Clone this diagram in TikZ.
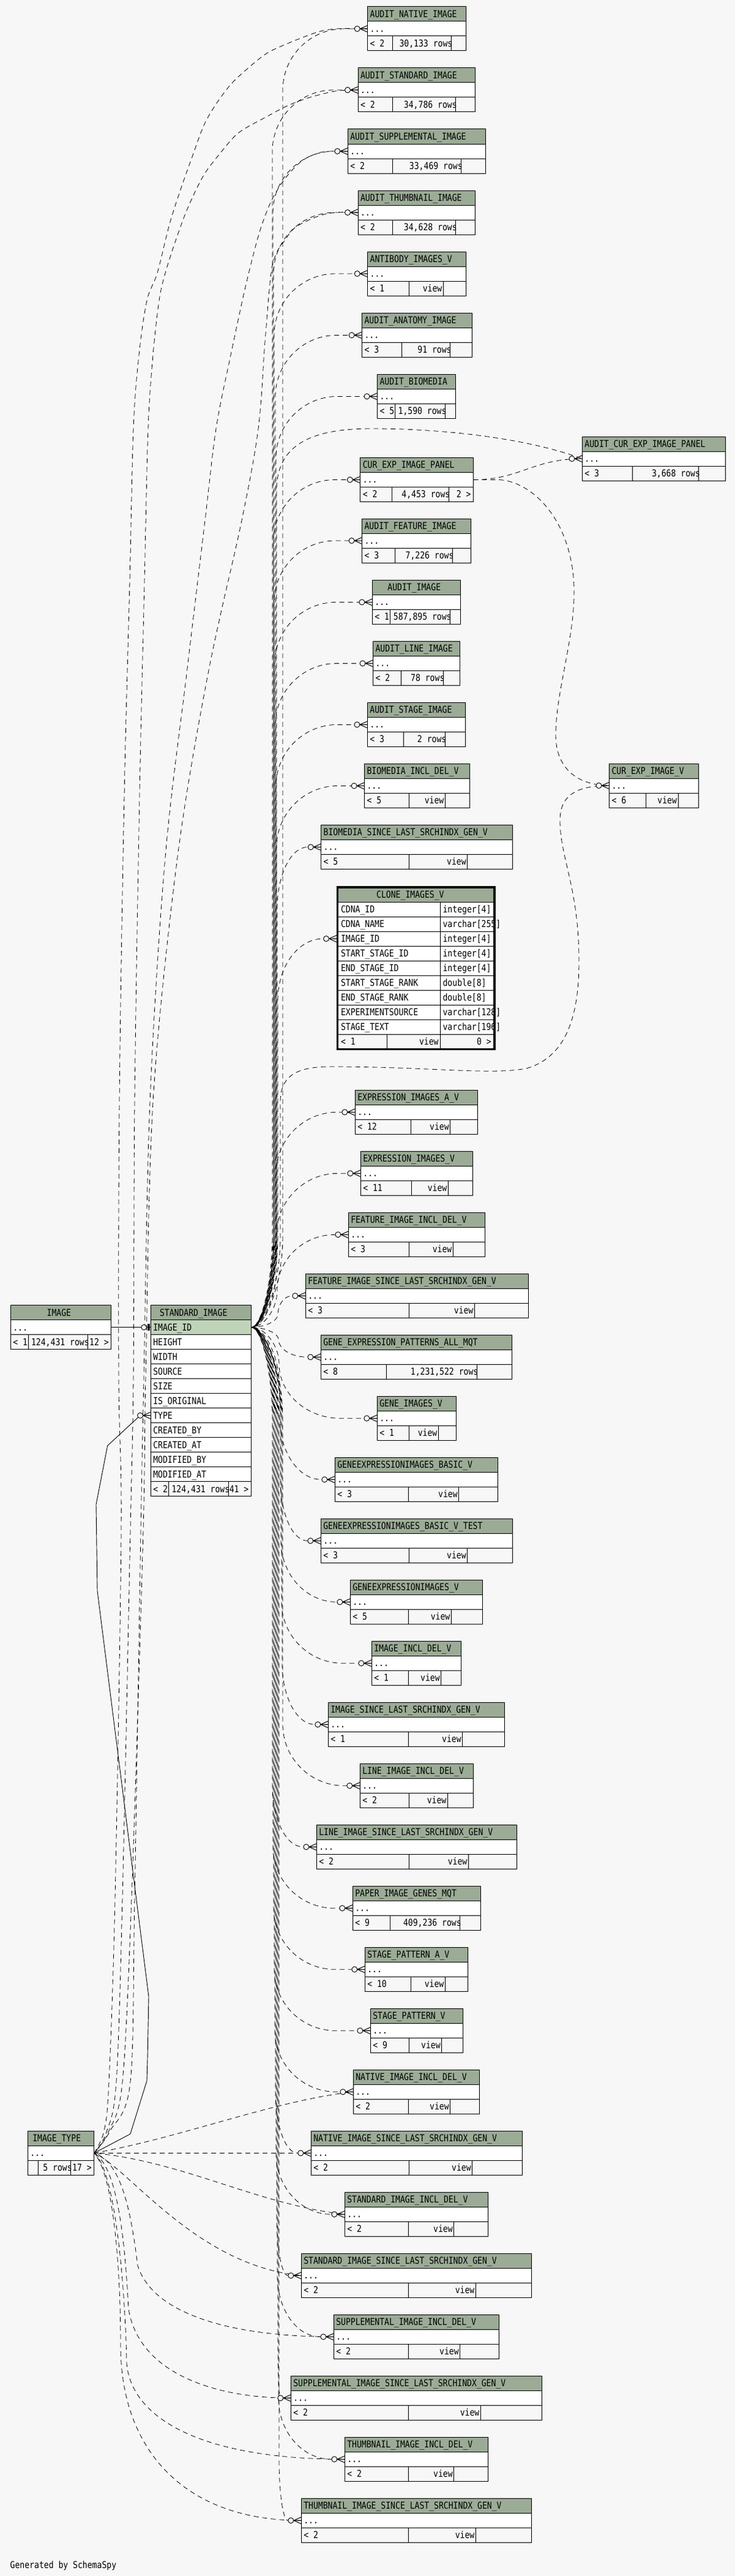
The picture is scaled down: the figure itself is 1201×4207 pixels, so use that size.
\documentclass[tikz,border=0pt]{standalone}
\usepackage{fontspec}
\newfontfamily\dbf[FakeStretch=0.845]{DejaVu Sans Mono}
\definecolor{bgc}{HTML}{F7F7F7}
\definecolor{hdrc}{HTML}{9BAB96}
\definecolor{keyc}{HTML}{BFD3B9}
\definecolor{footc}{HTML}{F7F7F7}
\tikzset{
 txt/.style={inner sep=0pt, outer sep=0pt, text height=10.6pt, text depth=0pt, anchor=west},
 rel/.style={line width=0.8pt, dash pattern=on 8pt off 6pt},
 solidrel/.style={line width=0.9pt},
 crow/.pic={\draw[line width=0.9pt, fill=bgc] (-17,0) circle[radius=4.5];
            \draw[line width=1pt] (-12.5,0) -- (0,0) (-12.5,0) -- (0,-5.5) (-12.5,0) -- (0,5.5);},
 zo/.pic={\draw[line width=0.9pt, fill=bgc] (-11,0) circle[radius=4.3];
          \draw[line width=0.9pt] (-6.7,0) -- (0,0);
          \fill (-5.2,-5.7) rectangle (-1.3,5.7);}
}
\def\hoff{4}\def\midoff{2}
% id, L, R, T, header, foot-left, foot-mid, split1, split2
\newcommand\dbt[9]{%
  \pgfmathsetmacro\tbw{#3-#2}%
  \fill[hdrc] (#2,#4) rectangle (#3,#4+24);
  \fill[white] (#2,#4+24) rectangle (#3,#4+48);
  \fill[footc] (#2,#4+48) rectangle (#3,#4+72);
  \node[txt] at ({#2+\hoff},{#4+12}) {#5};
  \node[txt] at ({#2+4},{#4+36}) {...};
  \node[txt] at ({#2+4},{#4+60}) {#6};
  \node[txt,anchor=east] at ({#9+(\midoff)},{#4+60}) {#7};
  \draw[line width=1pt] (#2,#4) rectangle (#3,{#4+72}) (#2,{#4+24}) -- (#3,{#4+24}) (#2,{#4+48}) -- (#3,{#4+48})
     (#8,{#4+48}) -- (#8,{#4+72}) (#9,{#4+48}) -- (#9,{#4+72});
  \node[inner sep=0pt, outer sep=0pt, minimum width=\tbw pt, minimum height=72pt, anchor=north west] (#1) at (#2,#4) {};
}
\newcommand\dbv[8]{\def\midoff{-2}\dbt{#1}{#2}{#3}{#4}{#5}{#6}{view}{#7}{#8}\def\midoff{2}}
% edge from STANDARD_IMAGE.IMAGE_ID: id, target y, target left
\newcommand\sedge[3]{%
 \pgfmathsetmacro\Edy{#2-2167.7}%
 \pgfmathsetmacro\Eady{abs(\Edy)}%
 \pgfmathsetmacro\Esg{\Edy<0 ? -1 : 1}%
 \pgfmathsetmacro\Evx{445+mod(round(#2*0.37),18)}%
 \pgfmathsetmacro\Eph{mod(round(#2*0.53),14)}%
 \pgfmathsetmacro\Ea{min(150,0.4*\Eady)}%
 \pgfmathsetmacro\Ery{min(100,\Eady-\Ea)}%
 \pgfmathsetmacro\Erx{max(4,min(100,#3-22-\Evx))}%
 \draw[rel, dash phase=\Eph pt] (si-id.east) .. controls ({(410.3+\Evx)/2},2167.7) and (\Evx,{2167.7+(\Esg)*\Ea*0.5}) .. (\Evx,{2167.7+(\Esg)*\Ea})
   -- (\Evx,{#2-(\Esg)*\Ery}) .. controls (\Evx,{#2-(\Esg)*\Ery*0.45}) and ({\Evx+\Erx*0.45},#2) .. ({\Evx+\Erx},#2) -- (#1.west);
}
\begin{document}
\begin{tikzpicture}[x=1pt,y=-1pt,font=\dbf\fontsize{15.5}{18}\selectfont]
\fill[bgc] (0,0) rectangle (1201,4207);
\useasboundingbox (0,0) rectangle (1201,4207);

% ---------- tables on the right ----------
\dbt{an}{600.7}{761.7}{11}{AUDIT\_NATIVE\_IMAGE}{< 2}{30,133 rows}{641.7}{737.3}
\dbt{as}{585}{776.7}{111}{AUDIT\_STANDARD\_IMAGE}{< 2}{34,786 rows}{641.7}{744.7}
\dbt{asu}{568.3}{793.7}{211}{AUDIT\_SUPPLEMENTAL\_IMAGE}{< 2}{33,469 rows}{641.7}{753.7}
\dbt{ath}{585}{776.7}{311}{AUDIT\_THUMBNAIL\_IMAGE}{< 2}{34,628 rows}{641.7}{744.7}
\dbv{abv}{600.7}{761.7}{411}{ANTIBODY\_IMAGES\_V}{< 1}{668.7}{724.3}
\dbt{aan}{591.6}{771.4}{511.4}{AUDIT\_ANATOMY\_IMAGE}{< 3}{91 rows}{656.7}{735.6}
\dbt{abio}{616.5}{744.7}{611.4}{AUDIT\_BIOMEDIA}{< 5}{1,590 rows}{645.7}{727.5}
\dbt{acep}{951.4}{1185.9}{713.2}{AUDIT\_CUR\_EXP\_IMAGE\_PANEL}{< 3}{3,668 rows}{1033.7}{1141.9}
\dbt{cep}{588.8}{773.4}{747.5}{CUR\_EXP\_IMAGE\_PANEL}{< 2}{4,453 rows}{640.4}{733.3}
\node[txt,anchor=east] at (769.4,807.5) {2 >};
\dbt{afe}{591.6}{769.6}{847}{AUDIT\_FEATURE\_IMAGE}{< 3}{7,226 rows}{645.7}{739.5}
\def\hoff{25}\dbt{aim}{608.4}{752.4}{947.5}{AUDIT\_IMAGE}{< 1}{587,895 rows}{637.6}{735.6}\def\hoff{4}
\dbt{ali}{609.5}{751.7}{1047.4}{AUDIT\_LINE\_IMAGE}{< 2}{78 rows}{655.5}{724.4}
\dbt{ast}{600.4}{760.3}{1147.4}{AUDIT\_STAGE\_IMAGE}{< 3}{2 rows}{659.3}{727.3}
\dbv{bid}{595.6}{767.5}{1247.4}{BIOMEDIA\_INCL\_DEL\_V}{< 5}{668.4}{727.3}
\dbv{bis}{524.7}{837.5}{1347.4}{BIOMEDIA\_SINCE\_LAST\_SRCHINDX\_GEN\_V}{< 5}{668.4}{763.7}
\dbv{cev}{995.5}{1141.6}{1247}{CUR\_EXP\_IMAGE\_V}{< 6}{1055.4}{1108}
\dbv{eia}{580.3}{780.3}{1780.3}{EXPRESSION\_IMAGES\_A\_V}{< 12}{671.3}{735.7}
\dbv{ei}{589.3}{772.3}{1880.3}{EXPRESSION\_IMAGES\_V}{< 11}{672.3}{732.3}
\dbv{fid}{569.3}{792.3}{1980.3}{FEATURE\_IMAGE\_INCL\_DEL\_V}{< 3}{668.3}{740.3}
\dbv{fis}{499.3}{863.3}{2080.3}{FEATURE\_IMAGE\_SINCE\_LAST\_SRCHINDX\_GEN\_V}{< 3}{668.3}{775.3}
\dbt{gep}{524.3}{836.3}{2180.3}{GENE\_EXPRESSION\_PATTERNS\_ALL\_MQT}{< 8}{1,231,522 rows}{631.3}{779.3}
\dbv{gi}{616.3}{745.3}{2280.3}{GENE\_IMAGES\_V}{< 1}{668.3}{716.3}
\dbv{geb}{547.3}{813.3}{2380.3}{GENEEXPRESSIONIMAGES\_BASIC\_V}{< 3}{667.3}{749.7}
\dbv{gebt}{524.3}{837.3}{2480.3}{GENEEXPRESSIONIMAGES\_BASIC\_V\_TEST}{< 3}{668.3}{763.7}
\dbv{ge}{572.3}{788.3}{2580.3}{GENEEXPRESSIONIMAGES\_V}{< 5}{667.3}{737.3}
\dbv{iid}{607.3}{753.3}{2680.3}{IMAGE\_INCL\_DEL\_V}{< 1}{667.3}{720.7}
\dbv{iis}{536.3}{824.3}{2780.3}{IMAGE\_SINCE\_LAST\_SRCHINDX\_GEN\_V}{< 1}{667.3}{755.7}
\dbv{lid}{588.3}{773.3}{2880.3}{LINE\_IMAGE\_INCL\_DEL\_V}{< 2}{668.3}{731.3}
\dbv{lis}{517.3}{844.3}{2980.3}{LINE\_IMAGE\_SINCE\_LAST\_SRCHINDX\_GEN\_V}{< 2}{668.3}{765.3}
\dbt{pig}{576.3}{785.3}{3080.3}{PAPER\_IMAGE\_GENES\_MQT}{< 9}{409,236 rows}{637.7}{751.7}
\dbv{spa}{596.3}{764.3}{3180.3}{STAGE\_PATTERN\_A\_V}{< 10}{671.3}{727.3}
\dbv{sp}{605.3}{756.3}{3280.3}{STAGE\_PATTERN\_V}{< 9}{668.3}{721.7}
\dbv{nid}{577.3}{783.3}{3380.3}{NATIVE\_IMAGE\_INCL\_DEL\_V}{< 2}{667.3}{735.7}
\dbv{nis}{508.3}{853.3}{3480.3}{NATIVE\_IMAGE\_SINCE\_LAST\_SRCHINDX\_GEN\_V}{< 2}{668.3}{771.7}
\dbv{sid}{563.3}{797.3}{3580.3}{STANDARD\_IMAGE\_INCL\_DEL\_V}{< 2}{667.3}{741.7}
\dbv{sis}{492.3}{868.3}{3680.3}{STANDARD\_IMAGE\_SINCE\_LAST\_SRCHINDX\_GEN\_V}{< 2}{667.3}{777.3}
\dbv{suid}{545.3}{815.7}{3780.3}{SUPPLEMENTAL\_IMAGE\_INCL\_DEL\_V}{< 2}{667.3}{751.7}
\dbv{suis}{475.3}{885.7}{3880.3}{SUPPLEMENTAL\_IMAGE\_SINCE\_LAST\_SRCHINDX\_GEN\_V}{< 2}{667.3}{785.3}
\dbv{tid}{563.3}{797.7}{3980.3}{THUMBNAIL\_IMAGE\_INCL\_DEL\_V}{< 2}{667.3}{741.7}
\dbv{tis}{492.3}{868.3}{4080.3}{THUMBNAIL\_IMAGE\_SINCE\_LAST\_SRCHINDX\_GEN\_V}{< 2}{667.3}{777.3}

% ---------- CLONE_IMAGES_V ----------
\fill[hdrc] (551.5,1449) rectangle (808,1473);
\fill[white] (551.5,1473) rectangle (808,1689);
\fill[footc] (551.5,1689) rectangle (808,1713);
\node[txt] at (615.2,1461) {CLONE\_IMAGES\_V};
\foreach \a/\b [count=\i from 0] in {CDNA\_ID/integer[4],CDNA\_NAME/varchar[255],IMAGE\_ID/integer[4],START\_STAGE\_ID/integer[4],END\_STAGE\_ID/integer[4],START\_STAGE\_RANK/double[8],END\_STAGE\_RANK/double[8],EXPERIMENTSOURCE/varchar[128],STAGE\_TEXT/varchar[196]}
 {\node[txt] at (557,{1485+24*\i}) {\a}; \node[txt] at (723.6,{1485+24*\i}) {\b};}
\node[txt] at (557,1701) {< 1};
\node[txt,anchor=east] at (716.6,1701) {view};
\node[txt,anchor=east] at (802.8,1701) {0 >};
\foreach \k in {1,...,10} \draw[line width=1pt] (551.5,{1449+24*\k}) -- (808,{1449+24*\k});
\draw[line width=1pt] (719.6,1473) -- (719.6,1713) (632.5,1689) -- (632.5,1713);
\draw[line width=3.5pt] (551.4,1448.8) rectangle (807.9,1713.5);
\node[inner sep=0pt, minimum width=258pt, minimum height=268pt, anchor=north west] (clone) at (549.6,1447) {};
\node[inner sep=0pt, minimum width=256pt, minimum height=24pt, anchor=west] (clone-id) at (550,1533) {};

% ---------- IMAGE ----------
\def\hoff{59.4}\dbt{img}{17.3}{181.7}{2131.7}{IMAGE}{< 1}{124,431 rows}{46.7}{143.7}\def\hoff{4}
\node[txt,anchor=east] at (177.7,2191.7) {12 >};

% ---------- IMAGE_TYPE ----------
\def\hoff{8}\dbt{it}{45.3}{153.7}{3480.3}{IMAGE\_TYPE}{}{5 rows}{62.7}{115.7}\def\hoff{4}
\node[txt,anchor=east] at (149.7,3540.3) {17 >};

% ---------- STANDARD_IMAGE ----------
\fill[hdrc] (246.3,2131.7) rectangle (410.3,2155.7);
\fill[keyc] (246.3,2155.7) rectangle (410.3,2179.7);
\fill[white] (246.3,2179.7) rectangle (410.3,2419.7);
\fill[footc] (246.3,2419.7) rectangle (410.3,2443.7);
\node[txt] at (261,2143.7) {STANDARD\_IMAGE};
\foreach \r [count=\i from 0] in {IMAGE\_ID,HEIGHT,WIDTH,SOURCE,SIZE,IS\_ORIGINAL,TYPE,CREATED\_BY,CREATED\_AT,MODIFIED\_BY,MODIFIED\_AT}
  \node[txt] at (250.3,{2167.7+24*\i}) {\r};
\node[txt] at (250.3,2431.7) {< 2};
\node[txt,anchor=east] at (375.2,2431.7) {124,431 rows};
\node[txt,anchor=east] at (406.3,2431.7) {41 >};
\draw[line width=1pt] (246.3,2131.7) rectangle (410.3,2443.7);
\foreach \k in {1,...,12} \draw[line width=1pt] (246.3,{2131.7+24*\k}) -- (410.3,{2131.7+24*\k});
\draw[line width=1pt] (275.7,2419.7) -- (275.7,2443.7) (373.7,2419.7) -- (373.7,2443.7);
\node[inner sep=0pt, minimum width=164pt, minimum height=312pt, anchor=north west] (si) at (246.3,2131.7) {};
\node[inner sep=0pt, minimum width=164pt, minimum height=24pt] (si-id) at (328.3,2167.7) {};
\node[inner sep=0pt, minimum width=164pt, minimum height=24pt] (si-type) at (328.3,2311.7) {};

\node[txt] (gen) at (16.7,4188.7) {Generated by SchemaSpy};

% ---------- edges from IMAGE_TYPE ----------
\draw[solidrel] (it.east) -- (213,3485) -- (240,3398) -- (241,3363) -- (243,3261) -- (159,2598) -- (157,2457) -- (175.7,2361) -- (229,2311.7) -- (si-type.west);
\draw[rel] plot[smooth, tension=0.55] coordinates {(it.east) (170,3480) (178,3400) (188,3100) (198,2500) (194,2250) (195,1800) (203,1300) (212,950) (218,700) (227,580) (240,491) (257,446) (277,366) (297,304) (313,259) (333,205) (353,170) (377,138) (400,116) (433,89) (463,74) (517,53) (550,47) (an.west)};
\draw[rel, dash phase=4pt] plot[smooth, tension=0.55] coordinates {(it.east) (174,3482) (190,3400) (200,3100) (213,2500) (218,2250) (220,1800) (228,1300) (236,950) (242,700) (250,580) (260,491) (270,446) (287,393) (307,339) (333,286) (360,250) (383,223) (400,210) (433,192) (467,174) (500,161) (533,152) (555,148) (as.west)};
\draw[rel, dash phase=9pt] plot[smooth, tension=0.55] coordinates {(it.east) (180,3480) (213,3400) (220,3100) (230,2500) (235,2250) (245,1800) (270,1400) (305,1100) (335,850) (353,700) (377,580) (400,473) (420,393) (433,353) (447,321) (467,290) (493,263) (520,250) (540,247) (asu.west)};
\draw[rel, dash phase=2pt] plot[smooth, tension=0.55] coordinates {(it.east) (178,3480) (200,3400) (215,3100) (234,2500) (238,2250) (250,1800) (290,1400) (340,1100) (395,850) (422,700) (433,558) (443,446) (453,411) (465,393) (483,371) (520,353) (550,347) (ath.west)};
\draw[rel] (it.east) .. controls (300,3490) and (450,3430) .. (nid.west);
\draw[rel, dash phase=5pt] (it.east) -- (nis.west);
\draw[rel, dash phase=10pt] (it.east) .. controls (300,3530) and (420,3600) .. (sid.west);
\draw[rel, dash phase=3pt] (it.east) .. controls (210,3540) and (320,3700) .. (sis.west);
\draw[rel, dash phase=7pt] (it.east) .. controls (200,3530) and (215,3620) .. (225,3700) .. controls (250,3780) and (380,3816.3) .. (suid.west);
\draw[rel, dash phase=12pt] (it.east) .. controls (195,3540) and (205,3680) .. (210,3770) .. controls (225,3870) and (340,3916.3) .. (suis.west);
\draw[rel, dash phase=1pt] (it.east) .. controls (190,3545) and (205,3750) .. (207,3860) .. controls (215,3950) and (330,4016.3) .. (tid.west);
\draw[rel, dash phase=6pt] (it.east) .. controls (185,3550) and (197,3700) .. (197,3830) .. controls (197,4000) and (300,4116.3) .. (tis.west);

% ---------- IMAGE -> STANDARD_IMAGE ----------
\draw[solidrel] (img.east) -- (si-id.west);

% ---------- edges from STANDARD_IMAGE ----------
\sedge{an}{47}{600.7}
\sedge{as}{147}{585}
\sedge{asu}{247}{568.3}
\sedge{ath}{347}{585}
\sedge{abv}{447}{600.7}
\sedge{aan}{547.4}{591.6}
\sedge{abio}{647.4}{616.5}
\sedge{cep}{783.5}{588.8}
\sedge{afe}{883}{591.6}
\sedge{aim}{983.5}{608.4}
\sedge{ali}{1083.4}{609.5}
\sedge{ast}{1183.4}{600.4}
\sedge{bid}{1283.4}{595.6}
\sedge{bis}{1383.4}{524.7}
\sedge{clone-id}{1533}{550}
\sedge{eia}{1816.3}{580.3}
\sedge{ei}{1916.3}{589.3}
\sedge{fid}{2016.3}{569.3}
\sedge{fis}{2116.3}{499.3}
\sedge{gep}{2216.3}{524.3}
\sedge{gi}{2316.3}{616.3}
\sedge{geb}{2416.3}{547.3}
\sedge{gebt}{2516.3}{524.3}
\sedge{ge}{2616.3}{572.3}
\sedge{iid}{2716.3}{607.3}
\sedge{iis}{2816.3}{536.3}
\sedge{lid}{2916.3}{588.3}
\sedge{lis}{3016.3}{517.3}
\sedge{pig}{3116.3}{576.3}
\sedge{spa}{3216.3}{596.3}
\sedge{sp}{3316.3}{605.3}
\sedge{nid}{3416.3}{577.3}
\sedge{nis}{3516.3}{508.3}
\sedge{sid}{3616.3}{563.3}
\sedge{sis}{3716.3}{492.3}
\sedge{suid}{3816.3}{545.3}
\sedge{suis}{3916.3}{475.3}
\sedge{tid}{4016.3}{563.3}
\sedge{tis}{4116.3}{492.3}
\draw[rel, dash phase=3pt] (si-id.east) .. controls (431,2167.7) and (452,2100) .. (452,2020) -- (452,800) .. controls (452,720) and (520,700) .. (608,700) .. controls (720,700) and (860,715) .. (acep.west);
\draw[rel, dash phase=8pt] (si-id.east) .. controls (431,2167.7) and (458,2100) .. (458,2020) -- (458,1800) .. controls (458,1760) and (480,1742) .. (540,1742) .. controls (700,1742) and (800,1756) .. (860,1745) .. controls (930,1725) and (946,1650) .. (946,1570) .. controls (946,1450) and (915,1400) .. (915,1340) .. controls (915,1300) and (940,1283) .. (cev.west);

% ---------- edges from CUR_EXP_IMAGE_PANEL ----------
\draw[rel] (cep.east) .. controls (850,783.5) and (870,749.2) .. (acep.west);
\draw[rel] (cep.east) -- (815,783.5) .. controls (870,786) and (935,850) .. (938,960) .. controls (940,1040) and (908,1130) .. (908,1200) .. controls (908,1260) and (950,1283) .. (cev.west);

% ---------- arrow ends ----------
\foreach \n in {an,as,asu,ath,abv,aan,abio,acep,cep,afe,aim,ali,ast,bid,bis,clone-id,cev,eia,ei,fid,fis,gep,gi,geb,gebt,ge,iid,iis,lid,lis,pig,spa,sp,nid,nis,sid,sis,suid,suis,tid,tis,si-type}
  \pic at (\n.west) {crow};
\pic at (si-id.west) {zo};
\end{tikzpicture}
\end{document}
